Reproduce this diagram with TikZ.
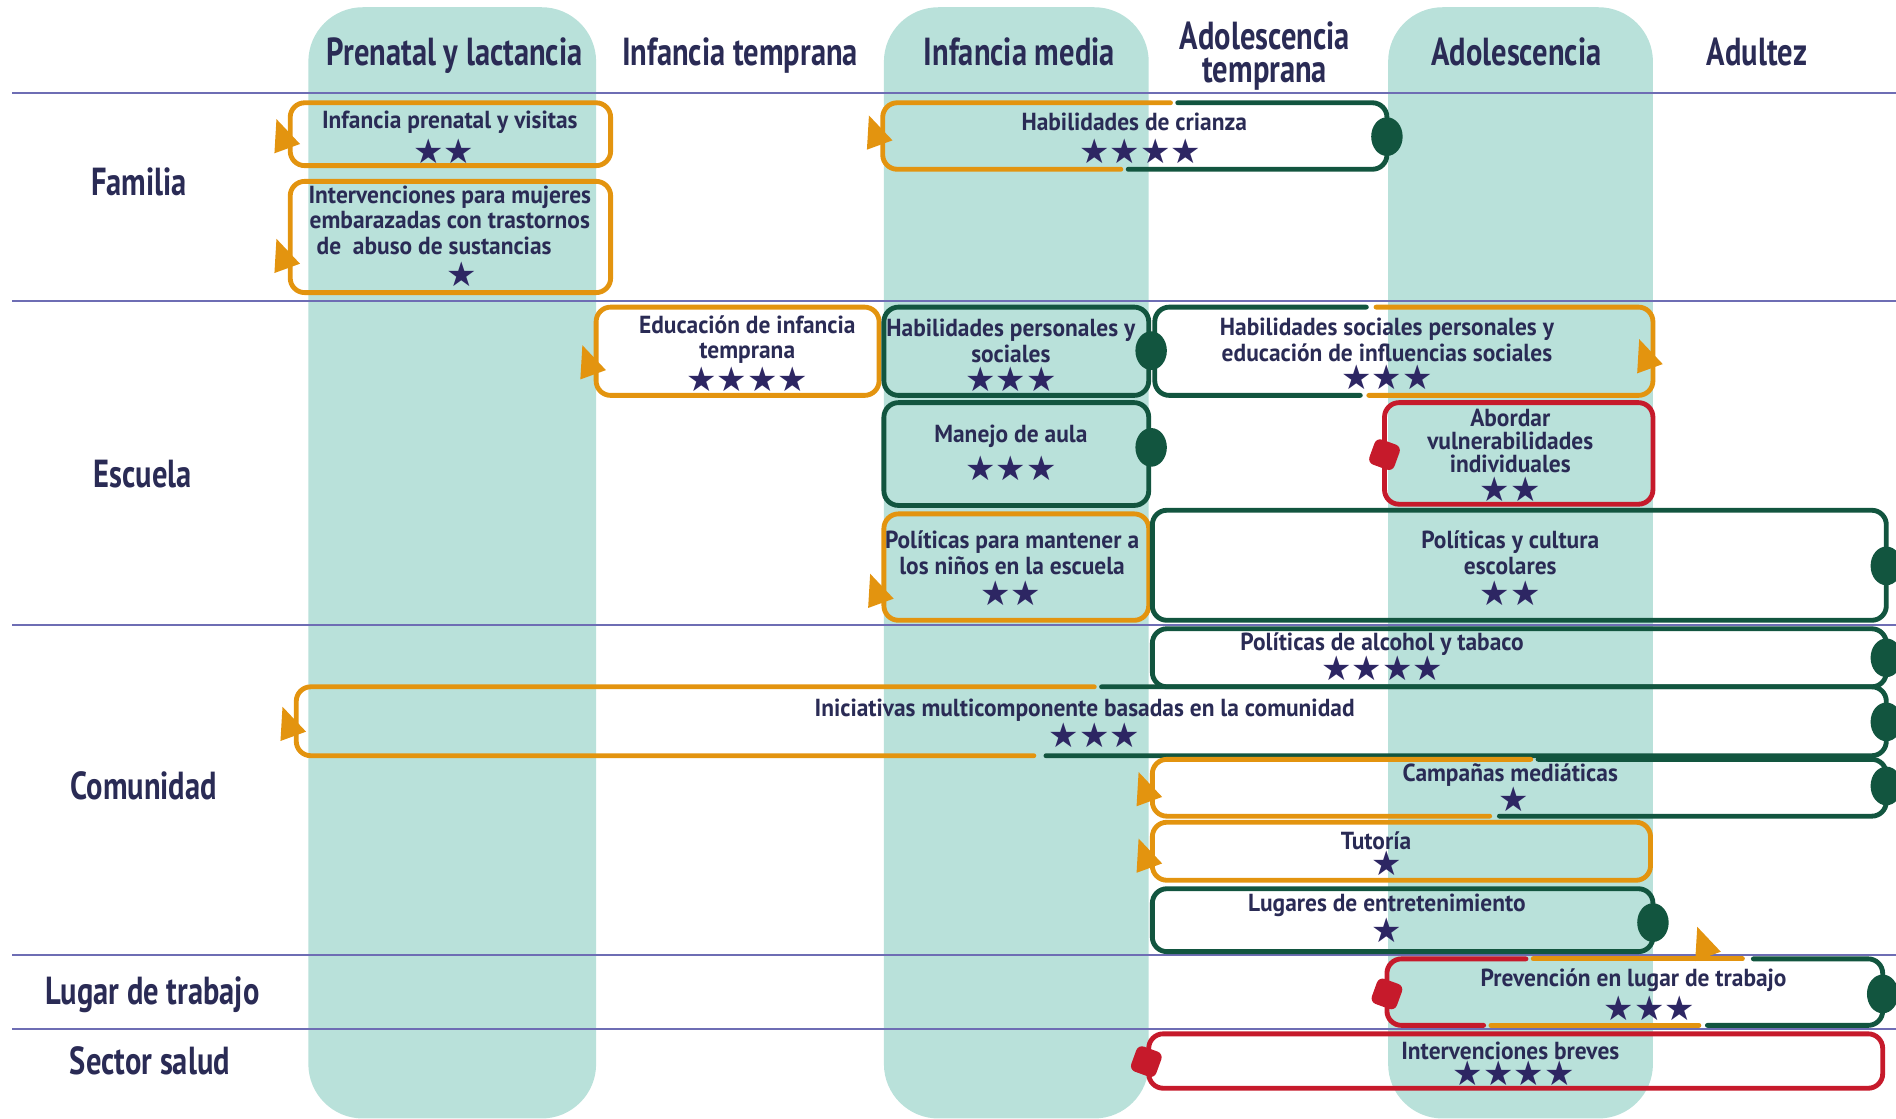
\documentclass[tikz,border=0pt]{standalone}
\usepackage{fontspec}
\setmainfont{PT Sans}
\newfontfamily\hdfont{PT Sans}[FakeStretch=0.78]
\newfontfamily\bxfont{PT Sans}[FakeStretch=0.95]
\newfontfamily\stfont{DejaVu Sans}
\usetikzlibrary{shapes.geometric}

\definecolor{bandc}{HTML}{B9E1DA}
\definecolor{orng}{HTML}{E3940F}
\definecolor{grn}{HTML}{12553F}
\definecolor{redc}{HTML}{C61A2B}
\definecolor{navy}{HTML}{2A2B55}
\definecolor{starc}{HTML}{2D2663}
\definecolor{rulec}{HTML}{6E6DB4}

\tikzset{
  band/.style={fill=bandc, rounded corners=0.45cm},
  rowline/.style={draw=rulec, line width=0.018cm},
  box/.style={line width=0.04cm, rounded corners=0.12cm, line cap=round},
  obox/.style={box, draw=orng},
  gbox/.style={box, draw=grn},
  rbox/.style={box, draw=redc},
  hdr/.style={font=\hdfont\bfseries\fontsize{9.2}{7.8}\selectfont, text=navy, align=center},
  lbl/.style={font=\bxfont\bfseries\fontsize{5.8}{6}\selectfont, text=navy, align=center, inner sep=0pt},
  rate/.style={font=\stfont\fontsize{8}{8}\selectfont, text=starc, inner sep=0pt},
  dot/.style={ellipse, fill=grn, minimum width=0.26cm, minimum height=0.32cm, inner sep=0pt},
  blk/.style={rectangle, rounded corners=0.05cm, fill=redc, minimum size=0.22cm, inner sep=0pt, rotate=-20},
  tri/.style={isosceles triangle, isosceles triangle stretches, fill=orng, minimum width=0.225cm, minimum height=0.26cm, inner sep=0pt, rotate=110},
}

\begin{document}
\begin{tikzpicture}[x=0.01cm, y=-0.01cm]
    \useasboundingbox (0,0) rectangle (1568,925);
    % bandas de edad
    \fill[band] (255,6) rectangle (493,925);
    \fill[band] (731,6) rectangle (950,925);
    \fill[band] (1148,6) rectangle (1367,925);
    \foreach \y in {77,249,517,790,851}
        \draw[rowline] (10,\y) -- (1568,\y);

    \node[hdr, anchor=base] (h1) at (376,54) {Prenatal y lactancia};
    \node[hdr, anchor=base] (h2) at (612,54) {Infancia temprana};
    \node[hdr, anchor=base] (h3) at (843,54) {Infancia media};
    \node[hdr] (h4) at (1046,46.5) {Adolescencia\\temprana};
    \node[hdr, anchor=base] (h5) at (1254,54) {Adolescencia};
    \node[hdr, anchor=base] (h6) at (1453,54) {Adultez};

    \node[hdr, anchor=base] (r1) at (115,162) {Familia};
    \node[hdr, anchor=base] (r2) at (118,403) {Escuela};
    \node[hdr, anchor=base] (r3) at (119,661) {Comunidad};
    \node[hdr, anchor=base] (r4) at (126,831) {Lugar de trabajo};
    \node[hdr, anchor=base] (r5) at (124,889) {Sector salud};

    % Familia
    \draw[obox] (240,85) rectangle (505,137);
    \node[lbl] (t1) at (372,101) {Infancia prenatal y visitas};
    \node[rate] (s1) at (367,125) {★★};
    \node[tri] (a1) at (235,116) {};

    \draw[obox] (240,150) rectangle (505,242);
    \node[lbl] (t2) at (372,182) {Intervenciones para mujeres\\embarazadas con trastornos\\de\ \ abuso de sustancias\hspace*{0.26cm}};
    \node[rate] (s2) at (382,227) {★};
    \node[tri] (a2) at (235,215) {};

    \draw[obox] (968,85) -- (730,85) -- (730,140) -- (927,140);
    \draw[gbox] (974,85) -- (1147,85) -- (1147,140) -- (933,140);
    \node[lbl] (t3) at (938,101) {Habilidades de crianza};
    \node[rate] (s3) at (943,125) {★★★★};
    \node[tri] (a3) at (725,113) {};
    \node[dot] (d3) at (1147,113) {};

    % Escuela
    \draw[obox] (493,254) rectangle (727,327);
    \node[lbl] (t4) at (618,281) {Educación de infancia\\temprana};
    \node[rate] (s4) at (618,314) {★★★★};
    \node[tri] (a4) at (488,303) {};

    \draw[gbox] (731,254) rectangle (950,327);
    \node[lbl] (t5) at (836,282) {Habilidades personales y\\sociales};
    \node[rate] (s5) at (836,314) {★★★};

    \draw[gbox] (1130,254) -- (955,254) -- (955,327) -- (1125,327);
    \draw[obox] (1138,254) -- (1367,254) -- (1367,327) -- (1132,327);
    \node[lbl] (t6) at (1147,281) {Habilidades sociales personales y\\educación de influencias sociales};
    \node[rate] (s6) at (1147,312) {★★★};
    \node[tri] (a6) at (1362,298) {};
    \node[dot] (d5) at (952,290) {};

    \draw[gbox] (731,333) rectangle (950,418);
    \node[lbl] (t7) at (836,361) {Manejo de aula};
    \node[rate] (s7) at (836,387) {★★★};
    \node[dot] (d7) at (952,370) {};

    \draw[rbox] (1145,333) rectangle (1367,417);
    \node[lbl] (t8) at (1249,365) {Abordar\\[-0.6pt]vulnerabilidades\\[-0.6pt]individuales};
    \node[rate] (s8) at (1249,405) {★★};
    \node[blk] (b8) at (1145,376) {};

    \draw[obox] (731,425) rectangle (950,513);
    \node[lbl] (t9) at (837,457) {Políticas para mantener a\\los niños en la escuela};
    \node[rate] (s9) at (836,491) {★★};
    \node[tri] (a9) at (726,492) {};

    \draw[gbox] (953,422) rectangle (1560,513);
    \node[lbl] (t10) at (1249,457) {Políticas y cultura\\escolares};
    \node[rate] (s10) at (1249,491) {★★};
    \node[dot] (d10) at (1560,468) {};

    % Comunidad
    \draw[gbox] (953,520) rectangle (1560,568);
    \node[lbl] (t11) at (1143,533) {Políticas de alcohol y tabaco};
    \node[rate] (s11) at (1143,553) {★★★★};
    \node[dot] (d11) at (1560,544) {};

    \draw[obox] (905,568) -- (245,568) -- (245,625) -- (855,625);
    \draw[gbox] (911,568) -- (1560,568) -- (1560,625) -- (865,625);
    \node[lbl] (t12) at (897,587) {Iniciativas multicomponente basadas en la comunidad};
    \node[rate] (s12) at (905,608) {★★★};
    \node[tri] (a12) at (240,602) {};
    \node[dot] (d12) at (1560,597) {};

    \draw[obox] (1266,628) -- (953,628) -- (953,675) -- (1232,675);
    \draw[gbox] (1272,628) -- (1560,628) -- (1560,675) -- (1240,675);
    \node[lbl] (t13) at (1249,641) {Campañas mediáticas};
    \node[rate] (s13) at (1252,661) {★};
    \node[tri] (a13) at (948,656) {};
    \node[dot] (d13) at (1560,650) {};

    \draw[obox] (953,680) rectangle (1365,728);
    \node[lbl] (t14) at (1138,695) {Tutoría};
    \node[rate] (s14) at (1147,714) {★};
    \node[tri] (a14) at (948,711) {};

    \draw[gbox] (953,735) rectangle (1367,787);
    \node[lbl] (t15) at (1147,749) {Lugares de entretenimiento};
    \node[rate] (s15) at (1147,769) {★};
    \node[dot] (d15) at (1367,763) {};

    % Lugar de trabajo
    \draw[rbox] (1262,793) -- (1147,793) -- (1147,848) -- (1227,848);
    \draw[obox] (1268,793) -- (1441,793);
    \draw[obox] (1233,848) -- (1405,848);
    \draw[gbox] (1450,793) -- (1557,793) -- (1557,848) -- (1412,848);
    \node[lbl] (t16) at (1351,811) {Prevención en lugar de trabajo};
    \node[rate] (s16) at (1364,834) {★★★};
    \node[tri] (a16) at (1410,784) {};
    \node[blk] (b16) at (1147,822) {};
    \node[dot] (d16) at (1557,822) {};

    % Sector salud
    \draw[rbox] (950,855) rectangle (1557,900);
    \node[lbl] (t17) at (1249,869) {Intervenciones breves};
    \node[rate] (s17) at (1252,888) {★★★★};
    \node[blk] (b17) at (948,878) {};
\end{tikzpicture}
\end{document}
